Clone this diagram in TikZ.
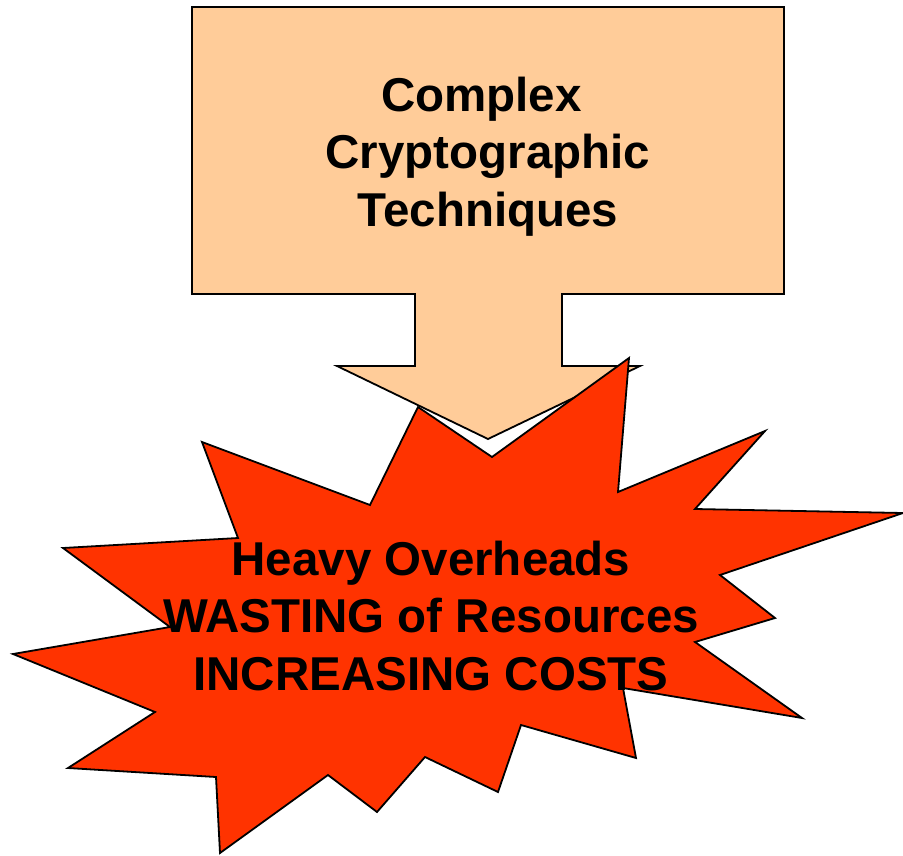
\documentclass[tikz,border=0pt]{standalone}
\usepackage{fontspec}
\setmainfont{Liberation Sans}
\definecolor{peach}{HTML}{FFCC99}
\definecolor{blast}{HTML}{FF3300}

\begin{document}
\begin{tikzpicture}[x=1pt,y=-1pt]
\tikzset{every node/.style={font=\bfseries\fontsize{47.5}{57.5}\selectfont, align=center, anchor=base}}
\tikzset{outline/.style={draw=black, line width=1.8pt}}
\useasboundingbox (0,0) rectangle (903,855);
% box with its down arrow
\draw[outline, fill=peach] (192,7) -- (784,7) -- (784,294) -- (562,294) -- (562,366) -- (640,366)
  -- (488,439) -- (337,366) -- (415,366) -- (415,294) -- (192,294) -- cycle;
\node (crypto) at (488,226) {Complex\hspace*{.278em}\\Cryptographic\\Techniques};
% explosion
\draw[outline, fill=blast] (492,457) -- (629,358) -- (618,492) -- (765,431) -- (695,509) -- (903,513)
  -- (720,575) -- (775,618) -- (695,642) -- (802,718) -- (623,688) -- (636,758) -- (521,725)
  -- (498,792) -- (425,757) -- (377,812) -- (328,775) -- (220,853) -- (216,777) -- (68,768)
  -- (155,712) -- (13,654) -- (170,627) -- (63,548) -- (238,538) -- (202,442) -- (370,505)
  -- (418,407) -- cycle;
\node (costs) at (431,690) {Heavy Overheads\\WASTING of Resources\\INCREASING COSTS};
\end{tikzpicture}
\end{document}
